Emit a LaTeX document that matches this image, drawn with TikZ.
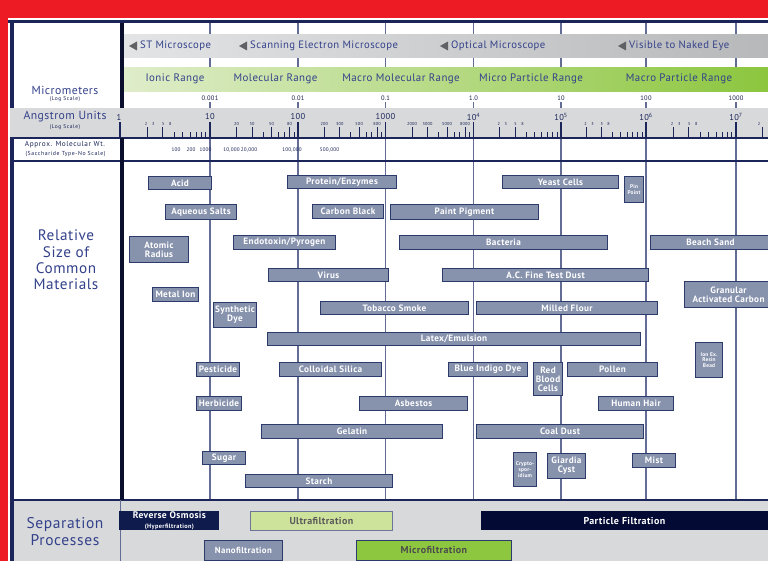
\documentclass[tikz,border=0pt]{standalone}
\usepackage{fontspec}
\setmainfont{PT Sans}[LetterSpace=4]
\definecolor{redbg}{HTML}{ED1C24}
\definecolor{navy}{HTML}{1B2559}
\definecolor{darkdiv}{HTML}{0A0F2E}
\definecolor{txtnavy}{HTML}{33418A}
\definecolor{boxfill}{HTML}{8792AD}
\definecolor{boxline}{HTML}{2D3A6C}
\definecolor{gridc}{HTML}{626C95}
\definecolor{bandgray}{HTML}{D8D9DB}
\definecolor{micL}{HTML}{E3E4E5}
\definecolor{micD}{HTML}{B7B8BA}
\definecolor{greenL}{HTML}{DFEDCA}
\definecolor{greenD}{HTML}{8CC63E}
\definecolor{ultra}{HTML}{CDE29B}
\definecolor{microg}{HTML}{8DC63F}
\definecolor{sepgray}{HTML}{D8D9DB}
\definecolor{rofill}{HTML}{0F1A4D}
\definecolor{pffill}{HTML}{030A33}
\definecolor{trigray}{HTML}{606164}
\tikzset{
  mat/.style={draw=boxline, fill=boxfill, line width=1pt, text=white, inner sep=0pt, align=center,
    font=\bfseries\fontsize{9.2}{9}\selectfont},
  tinymat/.style={mat, font=\bfseries\fontsize{5.4}{5.8}\selectfont},
  scl/.style={text=navy, inner sep=0pt, font=\fontsize{4.3}{5}\selectfont},
  lefttitle/.style={text=txtnavy, inner sep=0pt, align=center, font=\fontsize{11.7}{13}\selectfont},
  leftsub/.style={text=navy, inner sep=0pt, font=\fontsize{5.5}{6}\selectfont\addfontfeature{LetterSpace=10}},
  bandtxt/.style={text=txtnavy, inner sep=0pt, font=\fontsize{10.9}{12}\selectfont},
  micro/.style={text=txtnavy, inner sep=0pt, anchor=west, font=\fontsize{10.7}{12}\selectfont},
  dec/.style={text=navy, inner sep=0pt, font=\fontsize{8.5}{10}\selectfont},
  umv/.style={text=navy!80!black, inner sep=0pt, font=\fontsize{6.5}{7}\selectfont},
  mw/.style={text=navy, inner sep=0pt, font=\fontsize{5.2}{6}\selectfont},
  sepbox/.style={inner sep=0pt, align=center, line width=0.8pt},
}
\newcommand\matbx[7][mat]{\node[#1,anchor=north west,minimum width={(#5)-(#3)},minimum height={(#6)-(#4)}] (#2) at (#3,#4) {#7};}
\begin{document}
\begin{tikzpicture}[x=1pt,y=-1pt]
\useasboundingbox (0,0) rectangle (768,561);
\fill[redbg] (0,0) rectangle (768,561);
\fill[white] (8,18) rectangle (768,561);

% decade grid lines
\foreach \x in {210,298,385.5,473.5,561,646,736}
  \draw[gridc, line width=1.2pt] (\x,22) -- (\x,500);

% microscope band
\shade[left color=micL, right color=micD] (123,35) rectangle (768,58);
% range band
\shade[left color=greenL, right color=greenD] (123,68) rectangle (768,92);
% micrometer label row
\fill[white] (123,92) rectangle (768,102.5);
% angstrom band
\fill[bandgray] (10,108) rectangle (768,138);

% microscope labels
\foreach \tx/\lab/\nm in {129/ST Microscope/st, 239/Scanning Electron Microscope/sem, 440/Optical Microscope/opt, 618/Visible to Naked Eye/eye}{
  \fill[trigray] (\tx,46) -- (\tx+8,41.5) -- (\tx+8,50.5) -- cycle;
  \node[micro] (\nm) at (\tx+11,45.5) {\lab};
}
% range labels
\node[bandtxt] (ionic) at (175,79) {Ionic Range};
\node[bandtxt] (molr) at (275.5,79) {Molecular Range};
\node[bandtxt] (macmol) at (401,79) {Macro Molecular Range};
\node[bandtxt] (micp) at (531,79) {Micro Particle Range};
\node[bandtxt] (macp) at (679,79) {Macro Particle Range};

% micrometer values
\foreach \x/\v/\nm in {210/0.001/u1, 298/0.01/u2, 385.5/0.1/u3, 473.5/1.0/u4, 561/10/u5, 646/100/u6, 736/1000/u7}{
  \node[umv] (\nm) at (\x,98) {\v};
  \draw[gridc, line width=1pt] (\x,103) -- (\x,108);
}

% angstrom decade ticks and labels
\draw[navy, line width=1.5pt] (120,122) -- (120,138);
\foreach \x/\v/\nm in {210/10/a1, 298/100/a2, 385.5/1000/a3, 473.5/10\textsuperscript{4}/a4, 561/10\textsuperscript{5}/a5, 646/10\textsuperscript{6}/a6, 736/10\textsuperscript{7}/a7}{
  \node[dec] (\nm) at (\x,117) {\v};
  \draw[navy, line width=1.3pt] (\x,122) -- (\x,138);
}
% minor ticks
\foreach \a/\b in {120/210, 210/298, 298/385.5, 385.5/473.5, 473.5/561, 561/646, 646/736, 736/824}{
  \foreach \k in {2,...,9}{
    \pgfmathsetmacro\xx{\a+(\b-\a)*log10(\k)}
    \draw[navy, line width=0.9pt] (\xx,132.5) -- (\xx,138);
  }
}
\foreach \a/\b/\ks in {120/210/{2,3}, 210/298/{2,3,5,8}, 298/385.5/{2,3,5,8}, 385.5/473.5/{2,3,5,8}, 473.5/561/{2,3}, 561/646/{2,3}, 646/736/{2,3}, 736/824/{2}}{
  \foreach \k in \ks {
    \pgfmathsetmacro\xx{\a+(\b-\a)*log10(\k)}
    \draw[navy, line width=0.9pt] (\xx,127.5) -- (\xx,138);
  }
}
% minor labels
\foreach \a/\b in {120/210, 473.5/561, 561/646, 646/736}{
  \foreach \f/\t in {0.29/2, 0.37/3, 0.48/5, 0.56/8}{
    \pgfmathsetmacro\xx{\a+(\b-\a)*\f}
    \node[scl] at (\xx,124) {\t};
  }
}
\foreach \a/\b/\m in {210/298/0, 298/385.5/00, 385.5/473.5/000}{
  \foreach \k in {2,3,5,8}{
    \pgfmathsetmacro\xx{\a+(\b-\a)*log10(\k)}
    \node[scl] at (\xx,124) {\k\m};
  }
}
\node[scl] at (759,124) {2};

% horizontal rules
\draw[navy, line width=2pt] (10,138) -- (768,138);
\draw[navy, line width=1.5pt] (10,161) -- (768,161);

% molecular weights
\foreach \x/\v in {176/100, 191/200, 205.5/1000, 231.5/{10,000}, 249/{20,000}, 292/{100,000}, 329.5/{500,000}}
  \node[mw] at (\x,150) {\v};

% separation section
\fill[sepgray] (14,500) rectangle (768,561);
\draw[navy, line width=1.5pt] (12,500) -- (768,500);
\draw[gridc, line width=0.8pt] (120,500) -- (120,561);

% left border and dividers
\draw[navy, line width=3.5pt] (8,21.5) -- (768,21.5);
\draw[navy, line width=3.5pt] (12,20) -- (12,108);
\draw[navy, line width=3.5pt] (12,138) -- (12,561);
\draw[darkdiv, line width=4pt] (121.5,23) -- (121.5,108);
\draw[darkdiv, line width=4pt] (121.5,138) -- (121.5,500);

% left column texts
\node[lefttitle] (mic) at (65,90) {Micrometers};
\node[leftsub] (micls) at (65,99.5) {(Log Scale)};
\node[lefttitle] (ang) at (65,117) {Angstrom Units};
\node[leftsub] (angls) at (65,127) {(Log Scale)};
\node[dec] (one) at (119,117) {1};
\node[text=navy, inner sep=0pt, font=\fontsize{7.3}{8}\selectfont\addfontfeature{LetterSpace=8}] (amw) at (65,145) {Approx. Molecular Wt.};
\node[text=navy, inner sep=0pt, font=\fontsize{5.8}{6}\selectfont\addfontfeature{LetterSpace=10}] (sacc) at (65.5,154) {(Saccharide Type-No Scale)};
\node[text=txtnavy, inner sep=0pt, align=center, font=\fontsize{15.2}{16.3}\selectfont] (rel) at (66,260) {Relative\\Size of\\Common\\Materials};
\node[text=txtnavy, inner sep=0pt, align=center, font=\fontsize{15.5}{17}\selectfont] (sep) at (65,532) {Separation\\Processes};

% materials
\matbx{acid}{148}{176}{211}{189}{Acid}
\matbx{protein}{287}{175}{396}{188}{Protein/Enzymes}
\matbx{yeast}{502}{175}{618}{188}{Yeast Cells}
\matbx[tinymat]{pinpoint}{624}{176}{643}{202}{Pin\\Point}
\matbx{aqueous}{165}{204}{236}{219}{Aqueous Salts}
\matbx{carbon}{312}{204}{383}{218}{Carbon Black}
\matbx{paint}{390}{204}{538}{219}{Paint Pigment}
\matbx{atomic}{129}{236}{188}{262}{Atomic\\Radius}
\matbx{endotoxin}{233}{235}{335}{249}{Endotoxin/Pyrogen}
\matbx{bacteria}{399}{235}{607}{249}{Bacteria}
\matbx{beach}{650}{235}{770}{249}{Beach Sand}
\matbx{virus}{268}{268}{388}{281}{Virus}
\matbx{acdust}{442}{268}{648}{281}{A.C. Fine Test Dust}
\matbx{metal}{152}{287}{198}{301}{Metal Ion}
\matbx{gac}{684}{281}{772}{307}{Granular\\Activated Carbon}
\matbx{synth}{213}{302}{256}{327}{Synthetic\\Dye}
\matbx{tobacco}{320}{301}{468}{314}{Tobacco Smoke}
\matbx{milled}{476}{301}{657}{314}{Milled Flour}
\matbx{latex}{267}{332}{640}{345}{Latex/Emulsion}
\matbx[tinymat]{ionex}{695}{342}{722}{377}{Ion Ex.\\Resin\\Bead}
\matbx{pest}{196}{362}{239}{376}{Pesticide}
\matbx{colloid}{279}{362}{381}{376}{Colloidal Silica}
\matbx{indigo}{448}{362}{527}{376}{Blue Indigo Dye}
\matbx{rbc}{533}{362}{562}{395}{Red\\Blood\\Cells}
\matbx{pollen}{567}{362}{657}{376}{Pollen}
\matbx{herb}{196}{396}{241}{410}{Herbicide}
\matbx{asbestos}{359}{396}{467}{410}{Asbestos}
\matbx{hair}{598}{396}{673}{410}{Human Hair}
\matbx{gelatin}{261}{424}{442}{438}{Gelatin}
\matbx{coal}{476}{424}{643}{438}{Coal Dust}
\matbx{sugar}{202}{451}{245}{464}{Sugar}
\matbx[tinymat]{crypto}{513}{452}{536}{486}{Crypto-\\spor-\\idium}
\matbx{giardia}{547}{453}{585}{478}{Giardia\\Cyst}
\matbx{mist}{632}{453}{675}{467}{Mist}
\matbx{starch}{245}{474}{392}{487}{Starch}

% separation processes
\node[sepbox, fill=rofill, text=white, anchor=north west, minimum width=100, minimum height=19] (ro) at (119,511)
  {{\bfseries\fontsize{9.6}{9}\selectfont Reverse Osmosis}\\[-2pt]{\bfseries\fontsize{6.3}{6}\selectfont\addfontfeature{LetterSpace=6} (Hyperfiltration)}};
\node[sepbox, fill=ultra, draw=boxline!70, text=black!65, anchor=north west, minimum width=142, minimum height=19,
  font=\bfseries\fontsize{10}{10}\selectfont] (uf) at (250,511) {Ultrafiltration};
\node[sepbox, fill=pffill, text=white, anchor=north west, minimum width=300, minimum height=19,
  font=\bfseries\fontsize{10}{10}\selectfont] (pf) at (481,511) {\hspace*{-14pt}Particle Filtration};
\node[sepbox, fill=boxfill, draw=boxline, text=white, anchor=north west, minimum width=78, minimum height=20,
  font=\bfseries\fontsize{8.8}{9}\selectfont] (nf) at (204,540) {Nanofiltration};
\node[sepbox, fill=microg, draw=boxline, text=black!70, anchor=north west, minimum width=155, minimum height=20,
  font=\bfseries\fontsize{10}{10}\selectfont] (mf) at (356,540) {Microfiltration};
\end{tikzpicture}
\end{document}
